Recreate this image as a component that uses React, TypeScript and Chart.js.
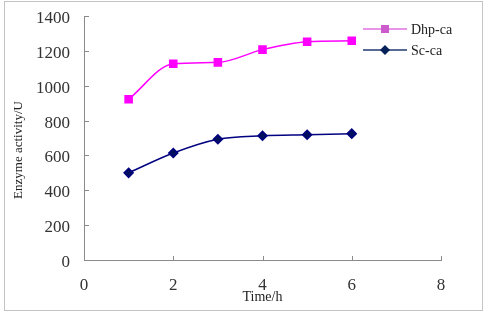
import React, { useEffect, useRef } from "react";
import { Chart, registerables } from "chart.js";

Chart.register(...registerables);

// Sampling times (h)
const timeHours = [1, 2, 3, 4, 5, 6];
// Enzyme activity (U) for each strain
const dhpCa = [922, 1126, 1134, 1207, 1252, 1258];
const scCa = [500, 614, 693, 713, 719, 725];

const seriesNames = ["Dhp-ca", "Sc-ca"];
const xTitle = "Time/h";
const yTitle = "Enzyme activity/U";

const SERIF = "'Liberation Serif', 'Times New Roman', serif";

// Short tick marks drawn inward from each axis, an in-plot legend, and the rotated y title
const decorPlugin = {
  id: "decor",
  afterDraw(chart: any) {
    const { ctx, chartArea, scales } = chart;
    const xs = scales.x;
    const ys = scales.y;
    ctx.save();
    ctx.strokeStyle = "#8a8a8a";
    ctx.lineWidth = 1;
    ctx.beginPath();
    xs.ticks.forEach((t: any) => {
      const px = Math.round(xs.getPixelForValue(t.value)) + 0.5;
      ctx.moveTo(px, chartArea.bottom);
      ctx.lineTo(px, chartArea.bottom - 4);
    });
    ys.ticks.forEach((t: any) => {
      const py = Math.round(ys.getPixelForValue(t.value)) + 0.5;
      ctx.moveTo(chartArea.left, py);
      ctx.lineTo(chartArea.left + 5, py);
    });
    ctx.stroke();

    // y axis title
    ctx.save();
    ctx.translate(18.5, 150);
    ctx.rotate(-Math.PI / 2);
    ctx.fillStyle = "#222";
    ctx.font = `13px ${SERIF}`;
    ctx.textAlign = "center";
    ctx.textBaseline = "middle";
    ctx.fillText(yTitle, 0, 0);
    ctx.restore();

    // legend
    const legendLine = ["#e070e0", "#203a70"];
    const legendMark = ["#cc5ccc", "#06205a"];
    const rows = [29, 50];
    chart.data.datasets.forEach((ds: any, i: number) => {
      const y = rows[i];
      ctx.strokeStyle = legendLine[i];
      ctx.lineWidth = 1.5;
      ctx.beginPath();
      ctx.moveTo(363, y);
      ctx.lineTo(407, y);
      ctx.stroke();
      ctx.fillStyle = legendMark[i];
      ctx.beginPath();
      if (i === 0) {
        ctx.rect(381, y - 4, 8, 8);
      } else {
        ctx.moveTo(385, y - 5);
        ctx.lineTo(390, y);
        ctx.lineTo(385, y + 5);
        ctx.lineTo(380, y);
        ctx.closePath();
      }
      ctx.fill();
      ctx.fillStyle = "#222";
      ctx.font = `14px ${SERIF}`;
      ctx.textAlign = "left";
      ctx.textBaseline = "middle";
      ctx.fillText(ds.label, 411, y + 1);
    });
    ctx.restore();
  },
};

export default function App() {
  const canvasRef = useRef<HTMLCanvasElement | null>(null);

  useEffect(() => {
    if (!canvasRef.current) return;
    const chart = new Chart(canvasRef.current, {
      type: "line",
      data: {
        datasets: [
          {
            label: seriesNames[0],
            data: timeHours.map((t, i) => ({ x: t, y: dhpCa[i] })),
            borderColor: "#ff00ff",
            backgroundColor: "#ff00ff",
            borderWidth: 1.5,
            pointStyle: "rect",
            pointRadius: 5,
            cubicInterpolationMode: "monotone",
          },
          {
            label: seriesNames[1],
            data: timeHours.map((t, i) => ({ x: t, y: scCa[i] })),
            borderColor: "#000080",
            backgroundColor: "#00105e",
            borderWidth: 1.5,
            pointStyle: "rectRot",
            pointRadius: 4.5,
            cubicInterpolationMode: "monotone",
          },
        ],
      },
      options: {
        animation: false,
        responsive: false,
        devicePixelRatio: 1,
        layout: { padding: { top: 16, right: 49, left: 0, bottom: 0 } },
        plugins: {
          legend: { display: false },
          tooltip: { enabled: false },
        },
        scales: {
          x: {
            type: "linear",
            min: 0,
            max: 8,
            afterFit: (s: any) => {
              s.height = 52;
              s.paddingLeft = 0;
              s.paddingRight = 0;
            },
            ticks: {
              stepSize: 2,
              padding: 15,
              color: "#333",
              font: { family: SERIF, size: 17 },
              callback: (v: any) => String(v),
            },
            grid: { drawOnChartArea: false, drawTicks: false },
            border: { display: true, color: "#8a8a8a", width: 1 },
            title: {
              display: true,
              text: xTitle,
              color: "#222",
              font: { family: SERIF, size: 14 },
              padding: { top: 0, bottom: 6 },
            },
          },
          y: {
            type: "linear",
            min: 0,
            max: 1400,
            afterFit: (s: any) => {
              s.width = 84;
              s.paddingTop = 0;
              s.paddingBottom = 0;
            },
            ticks: {
              stepSize: 200,
              padding: 14,
              labelOffset: 2.5,
              color: "#333",
              font: { family: SERIF, size: 17 },
              callback: (v: any) => String(v),
            },
            grid: { drawOnChartArea: false, drawTicks: false },
            border: { display: true, color: "#8a8a8a", width: 1 },
          },
        },
      },
      plugins: [decorPlugin],
    });
    return () => chart.destroy();
  }, []);

  return (
    <div style={{ position: "fixed", left: 0, top: 0, width: 490, height: 312, background: "#fff" }}>
      <canvas ref={canvasRef} width={490} height={312} style={{ position: "absolute", left: 0, top: 0 }} />
      <div
        style={{
          position: "absolute",
          left: 4,
          top: 1,
          width: 477,
          height: 308,
          border: "1px solid #c4c4c4",
          pointerEvents: "none",
        }}
      />
    </div>
  );
}
